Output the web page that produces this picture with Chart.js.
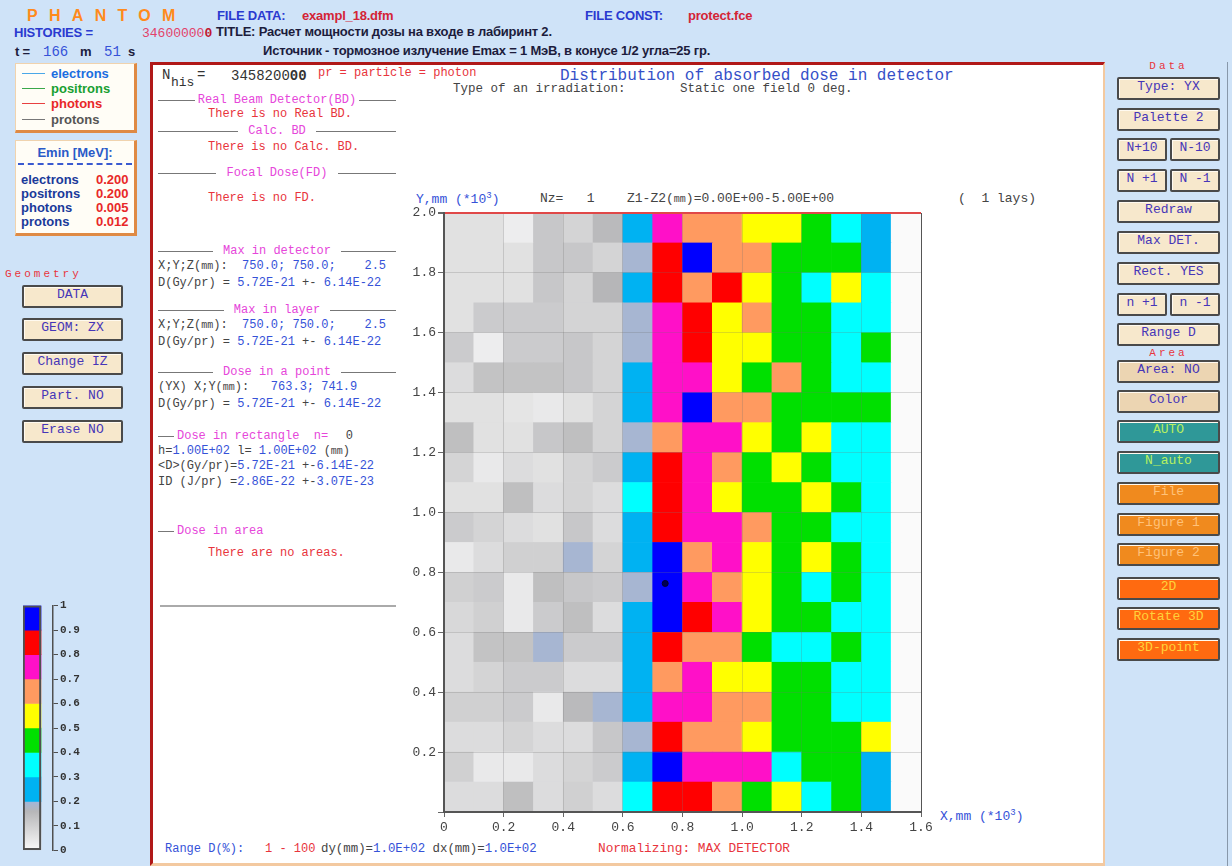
<!DOCTYPE html>
<html>
<head>
<meta charset="utf-8">
<script src="https://cdn.jsdelivr.net/npm/chart.js@4.4.1/dist/chart.umd.min.js"></script>
<style>
    body { margin: 0; width: 1232px; height: 866px; background: #cfe3f8; position: relative; overflow: hidden; font-family: "Liberation Sans", Arial, sans-serif; }
    .a { position: absolute; white-space: pre; }
    .mono { font-family: "Liberation Mono", "Courier New", monospace; }
    .hb { font-weight: bold; font-size: 13px; letter-spacing: -0.2px; }
    .blue { color: #2a3ad0; }
    .red { color: #d42436; }
    .dark { color: #1c1c3c; }
    .k { color: #444; }
    .u { color: #3552d8; }
    .e { color: #e8343c; }
    .p { color: #e646da; }
    .t12 { font-size: 12px; line-height: 14px; }
    .sec { position: absolute; left: 158px; width: 238px; height: 14px; display: flex; align-items: center; gap: 3px;
           font: 12px "Liberation Mono", monospace; color: #e646da; white-space: pre; }
    .sec::before, .sec::after { content: ""; flex: 1; border-top: 1px solid #777; }
    .secl { position: absolute; left: 158px; height: 14px; display: flex; align-items: center; gap: 3px;
            font: 12px "Liberation Mono", monospace; color: #e646da; white-space: pre; }
    .secl::before { content: ""; width: 16px; border-top: 1px solid #777; }
    .box { position: absolute; background: #fffdf6; border: 1px solid #f0d3ae; border-right: 3px solid #df8a44; border-bottom: 3px solid #df8a44; }
    .btn { position: absolute; height: 19px; line-height: 19px; text-align: center; font: 13px "Liberation Mono", monospace;
           border: 2px solid #4a4a4a; border-radius: 2px; box-shadow: inset 1px 1px 0 #fffaf0; white-space: pre; }
    .b { background: #f7e8cc; color: #4636b8; }
    .tn { background: #ecd5b2; color: #4636b8; }
    .g { background: #2f9898; color: #b8f060; }
    .o { background: #f08a1e; color: #ffc27a; }
    .r { background: #ff6a10; color: #ffd23a; }
    .lbl { font: 11px "Liberation Mono", monospace; color: #e8343c; letter-spacing: 3px; }
    .lg { position: absolute; left: 6px; height: 15px; display: flex; align-items: center; font: bold 13px "Liberation Sans"; }
    .lg i { display: inline-block; width: 23px; border-top: 1.5px solid; margin-right: 6px; }
    .bot { line-height: 14px; top: 842px; }
</style>
</head>
<body>

<!-- header -->
<div class="a" style="left:27px;top:7px;font:bold 16px 'Liberation Sans';color:#ff8a1c;letter-spacing:11.3px">PHANTOM</div>
<div class="a hb blue" style="left:217px;top:8px">FILE DATA:</div>
<div class="a hb red" style="left:302px;top:8px">exampl_18.dfm</div>
<div class="a hb blue" style="left:585px;top:8px">FILE CONST:</div>
<div class="a hb red" style="left:688px;top:8px">protect.fce</div>
<div class="a hb blue" style="left:14px;top:25px">HISTORIES =</div>
<div class="a mono" style="left:142px;top:26px;font-size:13px;color:#e2426a">34600000<b style="color:#c01830">0</b></div>
<div class="a hb dark" style="left:216px;top:24px">TITLE: Расчет мощности дозы на входе в лабиринт 2.</div>
<div class="a hb dark" style="left:15px;top:44px">t =</div>
<div class="a mono u" style="left:43px;top:44px;font-size:14px">166</div>
<div class="a hb dark" style="left:80px;top:44px">m</div>
<div class="a mono u" style="left:104px;top:44px;font-size:14px">51</div>
<div class="a hb dark" style="left:128px;top:44px">s</div>
<div class="a hb dark" style="left:263px;top:43px">Источник - тормозное излучение Emax = 1 МэВ, в конусе 1/2 угла=25 гр.</div>

<!-- left column -->
<div class="box" style="left:15px;top:63px;width:118px;height:66px">
    <div class="lg" style="top:2px"><i style="border-color:#4aa8e8"></i><span style="color:#1a6ee0">electrons</span></div>
    <div class="lg" style="top:17px"><i style="border-color:#3aa84a"></i><span style="color:#18a030">positrons</span></div>
    <div class="lg" style="top:32px"><i style="border-color:#e84040"></i><span style="color:#e82828">photons</span></div>
    <div class="lg" style="top:48px"><i style="border-color:#777"></i><span style="color:#555">protons</span></div>
</div>
<div class="box" style="left:15px;top:140px;width:118px;height:92px">
    <div class="a" style="left:0;width:118px;top:4px;text-align:center;font:bold 13px 'Liberation Sans';color:#2a5ac8">Emin [MeV]:</div>
    <div class="a" style="left:2px;width:114px;top:22px;border-top:2px dashed #3a5ad0"></div>
    <div class="a" style="left:5px;top:32px;font:bold 13px/14px 'Liberation Sans';color:#1a3a9a">electrons<br>positrons<br>photons<br>protons</div>
    <div class="a" style="left:80px;top:32px;font:bold 13px/14px 'Liberation Sans';color:#e82828">0.200<br>0.200<br>0.005<br>0.012</div>
</div>
<div class="a lbl" style="left:5px;top:268px">Geometry</div>

<!-- main white panel -->
<div class="a" style="left:150px;top:62px;width:950px;height:798px;background:#fff;border-left:3px solid #b01818;border-top:3px solid #b01818;border-right:2px solid #f3c9a0;border-bottom:3px solid #f3c9a0"></div>
<div class="a" style="left:1227px;top:62px;width:1px;height:804px;background:#8898aa"></div>

<div class="a mono" style="left:162px;top:67px;font-size:14px;color:#333">N</div>
<div class="a mono" style="left:171px;top:75px;font-size:13px;color:#333">his</div>
<div class="a mono" style="left:197px;top:67px;font-size:14px;color:#333">=</div>
<div class="a mono" style="left:231px;top:68px;font-size:14px;color:#333">3458200<b>00</b></div>
<div class="a mono e" style="left:318px;top:66px;font-size:12px">pr = particle = photon</div>
<div class="a mono" style="left:560px;top:67px;font-size:16px;color:#3550c8">Distribution of absorbed dose in detector</div>
<div class="a mono k" style="left:453px;top:82px;font-size:12.5px">Type of an irradiation:</div>
<div class="a mono k" style="left:680px;top:82px;font-size:12.5px">Static one field 0 deg.</div>

<div class="sec" style="top:93px">Real Beam Detector(BD)</div>
<div class="a mono e t12" style="left:208px;top:107px">There is no Real BD.</div>
<div class="sec" style="top:124px"> Calc. BD </div>
<div class="a mono e t12" style="left:208px;top:140px">There is no Calc. BD.</div>
<div class="sec" style="top:166px"> Focal Dose(FD) </div>
<div class="a mono e t12" style="left:208px;top:191px">There is no FD.</div>

<div class="sec" style="top:244px"> Max in detector </div>
<div class="a mono t12 k" style="left:158px;top:259px">X;Y;Z(<span style="font-size:10px">mm</span>):  <span class="u">750.0; 750.0;    2.5</span></div>
<div class="a mono t12 k" style="left:158px;top:276px">D(Gy/pr) = <span class="u">5.72E-21</span> +- <span class="u">6.14E-22</span></div>
<div class="sec" style="top:303px"> Max in layer </div>
<div class="a mono t12 k" style="left:158px;top:318px">X;Y;Z(<span style="font-size:10px">mm</span>):  <span class="u">750.0; 750.0;    2.5</span></div>
<div class="a mono t12 k" style="left:158px;top:335px">D(Gy/pr) = <span class="u">5.72E-21</span> +- <span class="u">6.14E-22</span></div>
<div class="sec" style="top:365px"> Dose in a point </div>
<div class="a mono t12 k" style="left:158px;top:380px">(YX) X;Y(<span style="font-size:10px">mm</span>):   <span class="u">763.3; 741.9</span></div>
<div class="a mono t12 k" style="left:158px;top:397px">D(Gy/pr) = <span class="u">5.72E-21</span> +- <span class="u">6.14E-22</span></div>
<div class="secl" style="top:429px">Dose in rectangle  n=  <span class="k">0</span></div>
<div class="a mono t12 k" style="left:158px;top:444px">h=<span class="u">1.00E+02</span> l= <span class="u">1.00E+02</span> (<span style="font-size:10px">mm</span>)</div>
<div class="a mono t12 k" style="left:158px;top:459px">&lt;D&gt;(Gy/pr)=<span class="u">5.72E-21</span> +-<span class="u">6.14E-22</span></div>
<div class="a mono t12 k" style="left:158px;top:475px">ID (J/pr) =<span class="u">2.86E-22</span> +-<span class="u">3.07E-23</span></div>
<div class="secl" style="top:524px">Dose in area</div>
<div class="a mono e t12" style="left:208px;top:546px">There are no areas.</div>
<div class="a" style="left:160px;top:605px;width:236px;border-top:2px solid #aaa"></div>

<div class="a mono u" style="left:416px;top:191px;font-size:13px">Y,mm (*10<sup style="font-size:9px">3</sup>)</div>
<div class="a mono k" style="left:540px;top:191px;font-size:13px">Nz=   1</div>
<div class="a mono k" style="left:627px;top:191px;font-size:13px">Z1-Z2(<span style="font-size:10px">mm</span>)=0.00E+00-5.00E+00</div>
<div class="a mono k" style="left:958px;top:191px;font-size:13px">(  1 lays)</div>
<div class="a mono u" style="left:940px;top:808px;font-size:13px">X,mm (*10<sup style="font-size:9px">3</sup>)</div>

<div class="a mono bot u" style="left:165px;font-size:12px">Range D(%):</div>
<div class="a mono bot e" style="left:265px;font-size:12px">1 - 100</div>
<div class="a mono bot k" style="left:321px;font-size:12.4px">dy(mm)=<span class="u">1.0E+02</span> dx(mm)=<span class="u">1.0E+02</span></div>
<div class="a mono bot e" style="left:598px;font-size:12.8px">Normalizing: MAX DETECTOR</div>

<!-- right column labels -->
<div class="a lbl" style="left:1117px;width:103px;text-align:center;top:60px">Data</div>
<div class="a lbl" style="left:1117px;width:103px;text-align:center;top:347px">Area</div>

<div id="heatBox" class="a" style="left:390px;top:196px;width:560px;height:646px"><canvas id="heat"></canvas></div>
<div id="cbBox" class="a" style="left:15px;top:597px;width:68px;height:262px"><canvas id="colorbar"></canvas></div>

<script>
// Dose map, layer Nz=1 (YX), normalised to the detector maximum.
// Cell centres in units of 10^3 mm, cell size 0.1.
const xCells = [0.05, 0.15, 0.25, 0.35, 0.45, 0.55, 0.65, 0.75, 0.85, 0.95, 1.05, 1.15, 1.25, 1.35, 1.45, 1.55];
const yCells = [1.95, 1.85, 1.75, 1.65, 1.55, 1.45, 1.35, 1.25, 1.15, 1.05,
                0.95, 0.85, 0.75, 0.65, 0.55, 0.45, 0.35, 0.25, 0.15, 0.05];

// one row per yCells entry (top to bottom), one value per xCells entry
const dose = [
    [0.06, 0.06, 0.03, 0.12, 0.09, 0.15, 0.25, 0.75, 0.65, 0.65, 0.55, 0.55, 0.45, 0.35, 0.25, 0],
    [0.06, 0.06, 0.06, 0.12, 0.12, 0.09, 0.19, 0.85, 0.95, 0.65, 0.65, 0.45, 0.45, 0.45, 0.25, 0],
    [0.06, 0.06, 0.06, 0.12, 0.09, 0.16, 0.25, 0.85, 0.65, 0.85, 0.55, 0.45, 0.35, 0.55, 0.35, 0],
    [0.06, 0.11, 0.11, 0.11, 0.09, 0.09, 0.19, 0.75, 0.85, 0.55, 0.65, 0.45, 0.45, 0.35, 0.35, 0],
    [0.11, 0.03, 0.11, 0.11, 0.12, 0.09, 0.19, 0.75, 0.85, 0.55, 0.55, 0.45, 0.45, 0.35, 0.45, 0],
    [0.07, 0.13, 0.13, 0.13, 0.12, 0.09, 0.25, 0.75, 0.75, 0.55, 0.45, 0.65, 0.45, 0.35, 0.35, 0],
    [0.06, 0.06, 0.05, 0.04, 0.06, 0.09, 0.25, 0.75, 0.95, 0.65, 0.65, 0.45, 0.45, 0.45, 0.45, 0],
    [0.14, 0.06, 0.06, 0.12, 0.14, 0.09, 0.19, 0.65, 0.75, 0.75, 0.55, 0.45, 0.55, 0.35, 0.35, 0],
    [0.09, 0.04, 0.07, 0.06, 0.09, 0.11, 0.25, 0.85, 0.75, 0.65, 0.45, 0.55, 0.45, 0.35, 0.35, 0],
    [0.06, 0.06, 0.14, 0.07, 0.09, 0.07, 0.35, 0.85, 0.75, 0.55, 0.45, 0.45, 0.55, 0.45, 0.35, 0],
    [0.11, 0.09, 0.07, 0.06, 0.12, 0.07, 0.25, 0.85, 0.75, 0.75, 0.65, 0.45, 0.45, 0.35, 0.35, 0],
    [0.04, 0.07, 0.10, 0.10, 0.19, 0.09, 0.25, 0.95, 0.65, 0.75, 0.55, 0.45, 0.55, 0.45, 0.35, 0],
    [0.10, 0.11, 0.04, 0.14, 0.12, 0.11, 0.19, 1.00, 0.75, 0.65, 0.55, 0.45, 0.35, 0.45, 0.35, 0],
    [0.08, 0.10, 0.04, 0.11, 0.14, 0.07, 0.25, 0.95, 0.85, 0.75, 0.55, 0.45, 0.45, 0.35, 0.35, 0],
    [0.07, 0.13, 0.13, 0.19, 0.11, 0.11, 0.25, 0.85, 0.65, 0.65, 0.45, 0.35, 0.35, 0.45, 0.35, 0],
    [0.07, 0.09, 0.11, 0.11, 0.07, 0.07, 0.25, 0.65, 0.75, 0.55, 0.55, 0.45, 0.45, 0.35, 0.35, 0],
    [0.10, 0.10, 0.11, 0.04, 0.15, 0.19, 0.25, 0.75, 0.75, 0.65, 0.65, 0.45, 0.45, 0.35, 0.35, 0],
    [0.07, 0.07, 0.09, 0.07, 0.07, 0.12, 0.19, 0.85, 0.65, 0.65, 0.55, 0.45, 0.45, 0.45, 0.55, 0],
    [0.10, 0.04, 0.04, 0.07, 0.09, 0.11, 0.25, 0.95, 0.75, 0.75, 0.75, 0.35, 0.45, 0.45, 0.25, 0],
    [0.07, 0.07, 0.14, 0.07, 0.10, 0.07, 0.35, 0.85, 0.85, 0.65, 0.45, 0.55, 0.35, 0.45, 0.25, 0],
];
const cellSize = 0.1;

// "Dose in a point" marker
const pointX = 0.742;
const pointY = 0.763;

// Palette 2: grey ramp below 0.2, flat bands above
const paletteEdges = [0.2, 0.3, 0.4, 0.5, 0.6, 0.7, 0.8, 0.9, 1.0];
const paletteColors = ['#00b2f2', '#00ffff', '#00e000', '#ffff00', '#ff9a60', '#ff10c8', '#ff0000', '#0000ff'];
const greyStops = [[0, [250, 250, 250]], [0.16, [182, 182, 184]], [0.2, [162, 182, 218]]];
const colorbarTicks = [0, 0.1, 0.2, 0.3, 0.4, 0.5, 0.6, 0.7, 0.8, 0.9, 1];

const uiButtons = [
    // left, top, width, text, style
    [22, 285, 101, 'DATA', 'b'],
    [22, 318, 101, 'GEOM: ZX', 'b'],
    [22, 352, 101, 'Change IZ', 'b'],
    [22, 386, 101, 'Part. NO', 'b'],
    [22, 420, 101, 'Erase NO', 'b'],
    [1117, 77, 103, 'Type: YX', 'b'],
    [1117, 108, 103, 'Palette 2', 'b'],
    [1117, 138, 50, 'N+10', 'b'], [1170, 138, 50, 'N-10', 'b'],
    [1117, 169, 50, 'N +1', 'b'], [1170, 169, 50, 'N -1', 'b'],
    [1117, 200, 103, 'Redraw', 'b'],
    [1117, 231, 103, 'Max DET.', 'b'],
    [1117, 262, 103, 'Rect. YES', 'b'],
    [1117, 293, 50, 'n +1', 'b'], [1170, 293, 50, 'n -1', 'b'],
    [1117, 323, 103, 'Range D', 'b'],
    [1117, 360, 103, 'Area: NO', 'tn'],
    [1117, 390, 103, 'Color', 'tn'],
    [1117, 420, 103, 'AUTO', 'g'],
    [1117, 451, 103, 'N_auto', 'g'],
    [1117, 482, 103, 'File', 'o'],
    [1117, 513, 103, 'Figure 1', 'o'],
    [1117, 543, 103, 'Figure 2', 'o'],
    [1117, 577, 103, '2D', 'r'],
    [1117, 607, 103, 'Rotate 3D', 'r'],
    [1117, 638, 103, '3D-point', 'r'],
];

uiButtons.forEach(([left, top, width, text, cls]) => {
    const el = document.createElement('div');
    el.className = 'btn ' + cls;
    el.style.left = left + 'px';
    el.style.top = top + 'px';
    el.style.width = (width - 4) + 'px';
    el.textContent = text;
    document.body.appendChild(el);
});

function greyColor(v) {
    for (let i = 1; i < greyStops.length; i++) {
        const [v0, c0] = greyStops[i - 1];
        const [v1, c1] = greyStops[i];
        if (v <= v1 || i === greyStops.length - 1) {
            const t = Math.max(0, Math.min(1, (v - v0) / (v1 - v0)));
            return 'rgb(' + c0.map((c, k) => Math.round(c + (c1[k] - c) * t)).join(',') + ')';
        }
    }
}

function doseColor(v) {
    for (let i = paletteEdges.length - 2; i >= 0; i--) {
        if (v >= paletteEdges[i] - 1e-9) return paletteColors[i];
    }
    return greyColor(v);
}

const near = (a, b) => Math.abs(a - b) < 1e-6;
const monoFont = { family: '"Liberation Mono", "Courier New", monospace', size: 13 };

const cells = [];
yCells.forEach((yc, r) => {
    xCells.forEach((xc, c) => {
        cells.push({ x: xc, y: [yc - cellSize / 2, yc + cellSize / 2], v: dose[r][c] });
    });
});

new Chart(document.getElementById('heat'), {
    type: 'bar',
    data: {
        datasets: [
            {
                type: 'scatter',
                data: [{ x: pointX, y: pointY }],
                pointRadius: 3,
                backgroundColor: '#000050',
                borderColor: '#000030',
                order: 0,
            },
            {
                data: cells,
                backgroundColor: (ctx) => doseColor(ctx.raw.v),
                borderWidth: 0,
                barPercentage: 1,
                categoryPercentage: 1,
                grouped: false,
                order: 1,
            },
        ]
    },
    options: {
        responsive: true,
        maintainAspectRatio: false,
        animation: false,
        layout: { padding: { top: 17, right: 29, left: 0, bottom: 0 } },
        plugins: { legend: { display: false }, tooltip: { enabled: false } },
        scales: {
            x: {
                type: 'linear',
                min: 0,
                max: 1.6,
                offset: false,
                afterFit: (s) => { s.height = 30; },
                ticks: {
                    stepSize: 0.2,
                    padding: 3,
                    color: '#444',
                    font: monoFont,
                    maxRotation: 0,
                    callback: (v) => (v === 0 ? '0' : v.toFixed(1)),
                },
                grid: {
                    offset: false,
                    z: 1,
                    tickLength: 5,
                    tickColor: '#666',
                    color: (ctx) => (ctx.tick && near(ctx.tick.value, 1.6) ? '#555' : 'rgba(110,110,110,0.25)'),
                },
                // border drawn after the grid so its position is already known
                border: { color: '#555', width: 2, z: 2 },
            },
            y: {
                type: 'linear',
                min: 0,
                max: 2.0,
                afterFit: (s) => { s.width = 54; },
                ticks: {
                    stepSize: 0.2,
                    padding: 2,
                    color: '#444',
                    font: monoFont,
                    callback: (v) => (v === 0 ? '' : v.toFixed(1)),
                },
                grid: {
                    z: 1,
                    tickLength: 6,
                    tickColor: '#666',
                    color: (ctx) => (ctx.tick && near(ctx.tick.value, 2) ? '#e04848' : 'rgba(110,110,110,0.25)'),
                    lineWidth: (ctx) => (ctx.tick && near(ctx.tick.value, 2) ? 2 : 1),
                },
                border: { color: '#555', width: 2, z: 2 },
            }
        }
    }
});

// colour scale
const bands = paletteColors.map((color, i) => ({ x: 0.3, y: [paletteEdges[i], paletteEdges[i + 1]], color }));
bands.unshift({ x: 0.3, y: [0, paletteEdges[0]], color: null });

new Chart(document.getElementById('colorbar'), {
    type: 'bar',
    data: {
        datasets: [
            {
                data: [{ x: 0.3, y: [0, 1] }],
                backgroundColor: 'rgba(0,0,0,0)',
                borderColor: '#505050',
                borderWidth: 1.5,
                borderSkipped: false,
                barThickness: 18,
                grouped: false,
                order: 0,
            },
            {
                data: bands,
                backgroundColor: (ctx) => {
                    if (ctx.raw && ctx.raw.color) return ctx.raw.color;
                    const chart = ctx.chart;
                    if (!chart.chartArea) return '#ccc';
                    const ys = chart.scales.y;
                    const y0 = ys.getPixelForValue(0);
                    const y1 = ys.getPixelForValue(paletteEdges[0]);
                    if (!isFinite(y0) || !isFinite(y1)) return '#ccc';
                    const g = chart.ctx.createLinearGradient(0, y0, 0, y1);
                    greyStops.forEach(([v, c]) => g.addColorStop(v / paletteEdges[0], 'rgb(' + c.join(',') + ')'));
                    return g;
                },
                borderWidth: 0,
                barThickness: 18,
                grouped: false,
                order: 1,
            },
        ]
    },
    options: {
        responsive: true,
        maintainAspectRatio: false,
        animation: false,
        layout: { padding: { left: 8, top: 7, bottom: 8, right: 0 } },
        plugins: { legend: { display: false }, tooltip: { enabled: false } },
        scales: {
            x: { type: 'linear', display: false, min: 0, max: 1, offset: false },
            y: {
                position: 'right',
                min: 0,
                max: 1,
                afterFit: (s) => { s.width = 30; },
                afterBuildTicks: (s) => { s.ticks = colorbarTicks.map((value) => ({ value })); },
                ticks: {
                    padding: 2,
                    color: '#333',
                    font: { family: '"Liberation Mono", monospace', size: 11, weight: 'bold' },
                    callback: (v) => (v === 0 || v === 1 ? String(v) : v.toFixed(1)),
                },
                grid: { drawOnChartArea: false, tickLength: 5, color: '#505050' },
                border: { color: '#505050', width: 1.5 },
            }
        }
    }
});
</script>
</body>
</html>
